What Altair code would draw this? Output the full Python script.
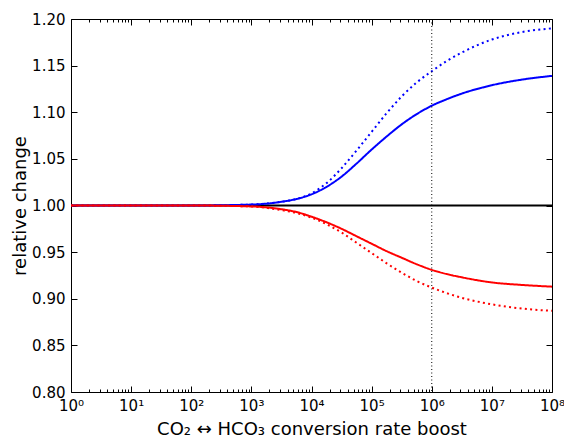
import json
import altair as alt
import pandas as pd

# ---- data ----
boost = [1, 10, 100, 1e3, 3162, 5623, 1e4, 17783, 31623, 56234, 1e5, 177828,
         316228, 562341, 1e6, 1778279, 3162278, 1e7, 31622777, 1e8]
blue_solid = [1.000, 1.000, 1.000, 1.001, 1.004, 1.007, 1.012, 1.020, 1.031, 1.045,
              1.060, 1.074, 1.087, 1.098, 1.107, 1.114, 1.120, 1.129, 1.135, 1.139]
blue_dotted = [1.000, 1.000, 1.000, 1.001, 1.004, 1.007, 1.013, 1.024, 1.040, 1.059,
               1.079, 1.099, 1.117, 1.132, 1.144, 1.155, 1.164, 1.178, 1.186, 1.190]
red_solid = [1.000, 1.000, 1.000, 0.999, 0.996, 0.993, 0.988, 0.982, 0.975, 0.967,
             0.959, 0.951, 0.944, 0.937, 0.931, 0.9265, 0.923, 0.9175, 0.9148, 0.913]
red_dotted = [1.000, 1.000, 1.000, 0.999, 0.995, 0.992, 0.987, 0.980, 0.971, 0.960,
              0.949, 0.938, 0.928, 0.919, 0.912, 0.906, 0.901, 0.894, 0.8895, 0.887]
reference_level = [1.0] * len(boost)
marker_boost = [1e6]

x_major = [1, 10, 100, 1e3, 1e4, 1e5, 1e6, 1e7, 1e8]
x_tick_labels = ["10⁰", "10¹", "10²", "10³", "10⁴", "10⁵", "10⁶", "10⁷", "10⁸"]
x_minor = [k * 10 ** n for n in range(8) for k in range(2, 10)]
y_ticks = [0.80, 0.85, 0.90, 0.95, 1.00, 1.05, 1.10, 1.15, 1.20]

series_names = ["ref", "blue_solid", "blue_dotted", "red_solid", "red_dotted"]
series_vals = [reference_level, blue_solid, blue_dotted, red_solid, red_dotted]
series_colors = ["#000000", "#0000ff", "#0000ff", "#ff0000", "#ff0000"]
series_dash = [[1, 0], [1, 0], [2, 3.3], [1, 0], [2, 3.3]]

rows = []
for i, (name, vals) in enumerate(zip(series_names, series_vals)):
    for b, v in zip(boost, vals):
        rows.append({"boost": b, "value": v, "series": name, "order": i})
df = pd.DataFrame(rows)

FONT = "DejaVu Sans"
xscale = alt.Scale(type="log", domain=[1, 1e8], nice=False)
yscale = alt.Scale(domain=[0.8, 1.2], nice=False, zero=False)

label_expr = json.dumps(x_tick_labels) + "[round(log(datum.value)/LN10)]"

lines = alt.Chart(df).mark_line(strokeWidth=2, clip=True, interpolate="monotone").encode(
    x=alt.X("boost:Q", scale=xscale,
            axis=alt.Axis(orient="bottom", values=x_major, labelExpr=label_expr,
                          ticks=False, domain=False, grid=False, labelFont=FONT,
                          labelFontSize=15, labelColor="black", labelPadding=6,
                          labelFlush=False, labelOverlap=False,
                          title="CO₂ ↔ HCO₃ conversion rate boost", titleFont=FONT,
                          titleFontSize=18, titleFontWeight="normal",
                          titleColor="black", titlePadding=7)),
    y=alt.Y("value:Q", scale=yscale,
            axis=alt.Axis(orient="left", values=y_ticks, format=".2f", ticks=False,
                          domain=False, grid=False, labelFont=FONT, labelFontSize=15,
                          labelColor="black", labelPadding=6, labelFlush=False,
                          labelOverlap=False, title="relative change", titleFont=FONT,
                          titleFontSize=18, titleFontWeight="normal",
                          titleColor="black", titlePadding=2)),
    color=alt.Color("series:N", scale=alt.Scale(domain=series_names, range=series_colors), legend=None),
    strokeDash=alt.StrokeDash("series:N", scale=alt.Scale(domain=series_names, range=series_dash), legend=None),
    order="order:Q",
)

vline = alt.Chart(pd.DataFrame({"boost": marker_boost})).mark_rule(
    color="black", strokeWidth=1, strokeDash=[1, 2.5]
).encode(x=alt.X("boost:Q", scale=xscale, axis=None))


def x_tick_layer(orient, values, size):
    return alt.Chart(df).mark_line(opacity=0).encode(
        x=alt.X("boost:Q", scale=xscale,
                axis=alt.Axis(orient=orient, values=values, labels=False, domain=False,
                              grid=False, ticks=True, tickSize=size, offset=-size,
                              tickColor="black", tickWidth=1, title=None)),
        y=alt.Y("value:Q", scale=yscale, axis=None),
    )


def y_tick_layer(orient, size):
    return alt.Chart(df).mark_line(opacity=0).encode(
        x=alt.X("boost:Q", scale=xscale, axis=None),
        y=alt.Y("value:Q", scale=yscale,
                axis=alt.Axis(orient=orient, values=y_ticks, labels=False, domain=False,
                              grid=False, ticks=True, tickSize=size, offset=-size,
                              tickColor="black", tickWidth=1, title=None)),
    )


chart = alt.layer(
    lines,
    vline,
    x_tick_layer("bottom", x_major, 6),
    x_tick_layer("bottom", x_minor, 3),
    x_tick_layer("top", x_major, 6),
    x_tick_layer("top", x_minor, 3),
    y_tick_layer("left", 6),
    y_tick_layer("right", 6),
).resolve_axis(x="independent", y="independent").properties(
    width=481, height=373,
    autosize=alt.AutoSizeParams(type="none"),
    padding={"left": 71, "top": 19, "right": 12, "bottom": 47},
    background="white",
).configure_view(stroke="black", strokeWidth=1)

chart.save("out.html", embed_options={"renderer": "svg", "actions": False})
